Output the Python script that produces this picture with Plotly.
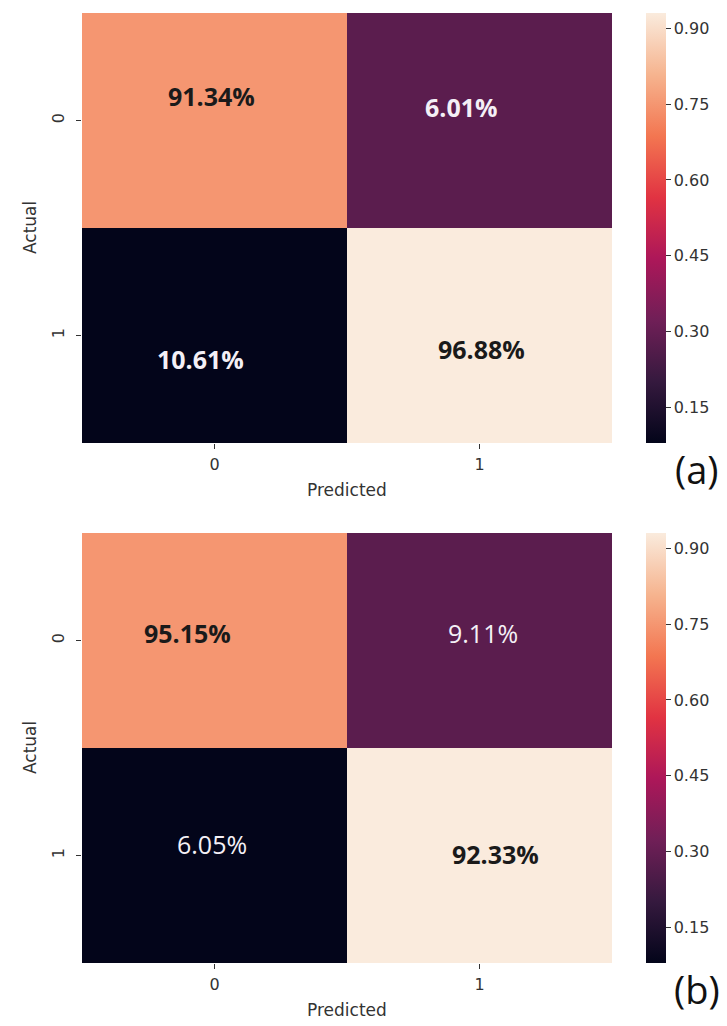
import plotly.graph_objects as go

# ---- data ----
categories = ["0", "1"]
# colour values
colors_a = [[0.75, 0.28], [0.08, 0.93]]
colors_b = [[0.75, 0.28], [0.08, 0.93]]
# annotation labels
labels_a = [["91.34%", "6.01%"], ["10.61%", "96.88%"]]
labels_b = [["95.15%", "9.11%"], ["6.05%", "92.33%"]]
bold_a = [[True, True], [True, True]]
bold_b = [[True, False], [False, True]]
cbar_ticks = [0.15, 0.30, 0.45, 0.60, 0.75, 0.90]
zmin, zmax = 0.08, 0.93

# ---- styling / placement ----
W, H = 727, 1026
rocket = [[0.0, "#03051a"], [0.143, "#35193e"], [0.286, "#701f57"], [0.429, "#ad1759"],
          [0.571, "#e13342"], [0.714, "#f37651"], [0.857, "#f6b48f"], [1.0, "#faebdd"]]
xdom = [82 / W, 612 / W]
panels = [
    dict(top=13, bot=443, z=colors_a, lab=labels_a, bold=bold_a, tag="(a)",
         shifts=[[(-3, 25), (-18, 14)], [(-14, -23), (2, -13)]]),
    dict(top=533, bot=963, z=colors_b, lab=labels_b, bold=bold_b, tag="(b)",
         shifts=[[(-27, 8), (3, 8)], [(-3, 12), (16, 2)]]),
]

fig = go.Figure()
annotations = []
tickfont = dict(family="DejaVu Sans", size=16, color="#333333")
titlefont = dict(family="DejaVu Sans", size=17, color="#333333")

for i, p in enumerate(panels):
    ax = "" if i == 0 else str(i + 1)
    ydom = [1 - p["bot"] / H, 1 - p["top"] / H]
    fig.add_trace(go.Heatmap(
        z=p["z"], x=[0, 1], y=[0, 1], xaxis="x" + ax, yaxis="y" + ax,
        colorscale=rocket, zmin=zmin, zmax=zmax, showscale=True,
        colorbar=dict(
            x=646 / W, xanchor="left", xref="paper", xpad=0, ypad=0,
            thickness=20, thicknessmode="pixels",
            len=(p["bot"] - p["top"]) / H, lenmode="fraction",
            y=1 - (p["top"] + p["bot"]) / 2 / H, yanchor="middle",
            outlinewidth=0, tickvals=cbar_ticks, ticktext=[f"{t:.2f}" for t in cbar_ticks],
            ticks="outside", ticklen=5, tickcolor="#333333", tickfont=tickfont,
        ),
        hoverinfo="skip",
    ))
    fig.update_layout(**{
        "xaxis" + ax: dict(domain=xdom, anchor="y" + ax, range=[-0.5, 1.5],
                           tickvals=[0, 1], ticktext=categories, ticks="outside",
                           ticklen=5, tickcolor="#333333", tickfont=tickfont,
                           ticklabelstandoff=2,
                           showgrid=False, zeroline=False, showline=False),
        "yaxis" + ax: dict(domain=ydom, anchor="x" + ax, range=[1.5, -0.5],
                           tickvals=[0, 1], ticktext=categories, ticks="outside",
                           ticklen=5, tickcolor="#333333", tickfont=tickfont, tickangle=-90,
                           ticklabelstandoff=6,
                           showgrid=False, zeroline=False, showline=False),
    })
    for r in range(2):
        for c in range(2):
            val = p["z"][r][c]
            dark = val < 0.5
            txt = p["lab"][r][c]
            if p["bold"][r][c]:
                txt = "<b>" + txt + "</b>"
            dx, dy = p["shifts"][r][c]
            annotations.append(dict(
                x=c, y=r, xref="x" + ax, yref="y" + ax, text=txt, showarrow=False,
                xshift=dx, yshift=dy,
                font=dict(family="Open Sans", size=25,
                          color="#f4f0f6" if dark else "#1a1a1a"),
            ))
    # axis titles
    annotations.append(dict(x=347 / W, y=1 - (p["bot"] + 47) / H, xref="paper", yref="paper",
                            text="Predicted", showarrow=False, font=titlefont,
                            xanchor="center", yanchor="middle"))
    annotations.append(dict(x=30 / W, y=1 - (p["top"] + p["bot"]) / 2 / H, xref="paper",
                            yref="paper", text="Actual", showarrow=False, font=titlefont,
                            textangle=-90, xanchor="center", yanchor="middle"))
    annotations.append(dict(x=697 / W, y=1 - (p["bot"] + 26) / H, xref="paper", yref="paper",
                            text=p["tag"], showarrow=False,
                            font=dict(family="Open Sans", size=38, color="#111111"),
                            xanchor="center", yanchor="middle"))

fig.update_layout(
    width=W, height=H, margin=dict(l=0, r=0, t=0, b=0),
    paper_bgcolor="white", plot_bgcolor="white",
    annotations=annotations, showlegend=False,
)
fig.write_html("out.html", config={"displayModeBar": False},
               post_script="document.body.style.margin='0';document.body.style.overflow='hidden';")
